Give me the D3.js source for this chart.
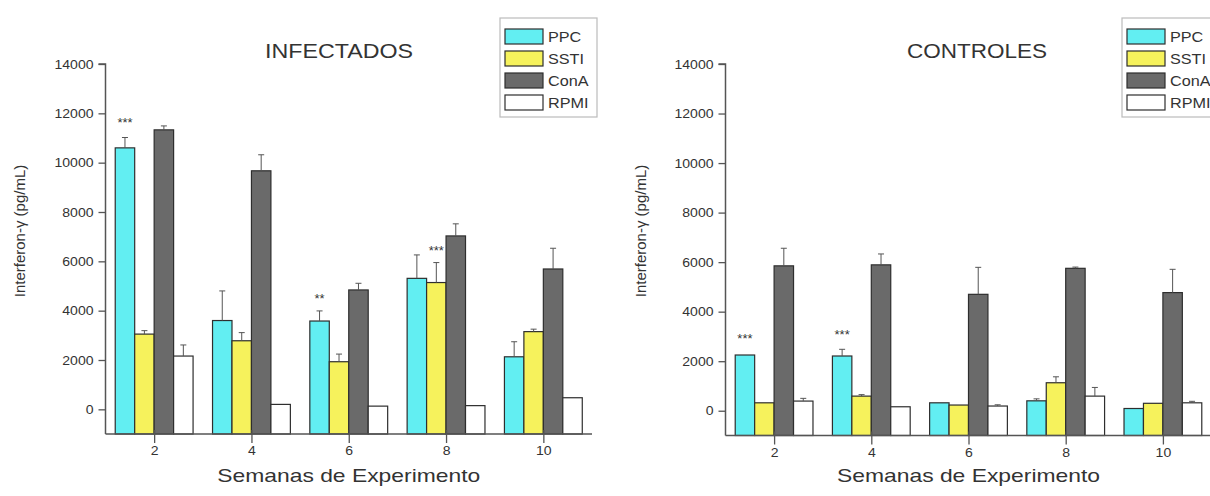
<!DOCTYPE html>
<html>
<head>
<meta charset="utf-8">
<script src="https://cdn.jsdelivr.net/npm/d3@7/dist/d3.min.js"></script>
<style>
  html, body { margin: 0; padding: 0; background: #fff; }
  svg { display: block; }
  text { font-family: "Liberation Sans", Arial, sans-serif; fill: #333; }
</style>
</head>
<body>
<svg id="chart" width="1210" height="496"></svg>
<script>
// ---------------- DATA ----------------
const weeks = [2, 4, 6, 8, 10];
const seriesNames = ["PPC", "SSTI", "ConA", "RPMI"];
const yTicks = [0, 2000, 4000, 6000, 8000, 10000, 12000, 14000];
const xTickLabels = ["2", "4", "6", "8", "10"];

// INFECTADOS
const infPPC  = [10600, 3600, 3580, 5310, 2130];
const infSSTI = [3050, 2780, 1930, 5140, 3150];
const infConA = [11330, 9670, 4840, 7030, 5690];
const infRPMI = [2160, 200, 130, 150, 470];
const infPPCErr  = [420, 1200, 410, 950, 610];
const infSSTIErr = [140, 330, 310, 810, 100];
const infConAErr = [160, 650, 270, 490, 840];
const infRPMIErr = [450, 0, 0, 0, 0];
const infStars = [
  { week: 2, series: "PPC", value: 11750, label: "***" },
  { week: 6, series: "PPC", value: 4600, label: "**" },
  { week: 8, series: "SSTI", value: 6550, label: "***" }
];

// CONTROLES
const conPPC  = [2250, 2210, 320, 400, 90];
const conSSTI = [320, 590, 230, 1130, 300];
const conConA = [5850, 5890, 4700, 5750, 4770];
const conRPMI = [390, 160, 190, 590, 320];
const conPPCErr  = [0, 270, 0, 80, 0];
const conSSTIErr = [0, 60, 0, 240, 0];
const conConAErr = [710, 440, 1090, 50, 940];
const conRPMIErr = [110, 0, 50, 350, 60];
const conStars = [
  { week: 2, series: "PPC", value: 3000, label: "***" },
  { week: 4, series: "PPC", value: 3170, label: "***" }
];

// ---------------- STYLE ----------------
const colors = { PPC: "#62eef2", SSTI: "#f6f25c", ConA: "#6a6a6a", RPMI: "#ffffff" };
const STRETCH = 1.08;

const svg = d3.select("#chart");

function buildRows(vals, errs) {
  return weeks.map((w, i) => ({
    week: w,
    values: seriesNames.map(s => ({ series: s, value: vals[s][i], err: errs[s][i] }))
  }));
}

const panels = [
  {
    title: "INFECTADOS", titleX: 339, titleLen: 148,
    xRange: [105.5, 592], yRange: [434, 64], yLabelX: 20, xLabelLen: 263,
    legend: { x: 500, y: 18 },
    rows: buildRows({ PPC: infPPC, SSTI: infSSTI, ConA: infConA, RPMI: infRPMI },
                    { PPC: infPPCErr, SSTI: infSSTIErr, ConA: infConAErr, RPMI: infRPMIErr }),
    stars: infStars
  },
  {
    title: "CONTROLES", titleX: 977, titleLen: 140,
    xRange: [725.5, 1211.5], yRange: [435.5, 64], yLabelX: 641, xLabelLen: 263,
    legend: { x: 1122, y: 18 },
    rows: buildRows({ PPC: conPPC, SSTI: conSSTI, ConA: conConA, RPMI: conRPMI },
                    { PPC: conPPCErr, SSTI: conSSTIErr, ConA: conConAErr, RPMI: conRPMIErr }),
    stars: conStars
  }
];

const BAR_W = 0.4; // in week units
const offset = d3.scaleBand().domain(seriesNames).range([-0.8, 0.8]);

panels.forEach(p => {
  const x = d3.scaleLinear().domain([1, 11]).range(p.xRange);
  const y = d3.scaleLinear().domain([-1000, 14000]).range(p.yRange);
  const g = svg.append("g");
  const x0 = p.xRange[0];
  const yBase = y(-1000);
  const bw = x(1 + BAR_W) - x(1);

  // bars
  const groups = g.selectAll(".grp").data(p.rows).enter().append("g");
  groups.selectAll("rect").data(d => d.values.map(v => ({ ...v, week: d.week })))
    .enter().append("rect")
    .attr("x", d => x(d.week + offset(d.series)))
    .attr("width", bw)
    .attr("y", d => y(d.value))
    .attr("height", d => yBase - y(d.value))
    .attr("fill", d => colors[d.series])
    .attr("stroke", "#2e2e2e")
    .attr("stroke-width", 1.2);

  // error bars (upper only)
  const eb = groups.selectAll(".eb").data(d => d.values.filter(v => v.err > 0).map(v => ({ ...v, week: d.week })))
    .enter().append("g").attr("stroke", "#555").attr("stroke-width", 1);
  eb.append("line")
    .attr("x1", d => x(d.week + offset(d.series) + BAR_W / 2))
    .attr("x2", d => x(d.week + offset(d.series) + BAR_W / 2))
    .attr("y1", d => y(d.value))
    .attr("y2", d => y(d.value + d.err));
  eb.append("line")
    .attr("x1", d => x(d.week + offset(d.series) + BAR_W / 2) - 3)
    .attr("x2", d => x(d.week + offset(d.series) + BAR_W / 2) + 3)
    .attr("y1", d => y(d.value + d.err))
    .attr("y2", d => y(d.value + d.err));

  // significance stars
  g.selectAll(".star").data(p.stars).enter().append("text")
    .attr("class", "stx")
    .attr("x", d => x(d.week + offset(d.series) + BAR_W / 2))
    .attr("y", d => y(d.value) + 7)
    .attr("text-anchor", "middle")
    .attr("font-size", 12)
    .text(d => d.label);

  // axes
  const yAxis = d3.axisLeft(y).tickValues(yTicks).tickSize(7).tickPadding(5).tickFormat(d3.format("d"));
  const ya = g.append("g").attr("transform", `translate(${x0},0)`).call(yAxis);
  ya.select(".domain").attr("d", `M-7,${y(14000)}H0V${yBase}`).attr("stroke", "#555").attr("stroke-width", 1.5);
  ya.selectAll(".tick line").attr("stroke", "#555").attr("stroke-width", 1.3);
  ya.selectAll(".tick text").attr("font-size", 13).attr("font-family", "Liberation Sans, Arial, sans-serif").attr("fill", "#333").classed("stx", true);

  const xAxis = d3.axisBottom(x).tickValues(weeks).tickSize(9).tickPadding(3).tickFormat((d, i) => xTickLabels[i]);
  const xa = g.append("g").attr("transform", `translate(0,${yBase})`).call(xAxis);
  xa.select(".domain").attr("d", `M${x0},0H${p.xRange[1]}`).attr("stroke", "#555").attr("stroke-width", 1.5);
  xa.selectAll(".tick line").attr("stroke", "#555").attr("stroke-width", 1.3).attr("y1", -4);
  xa.selectAll(".tick text").attr("font-size", 13).attr("font-family", "Liberation Sans, Arial, sans-serif").attr("fill", "#333").classed("stx", true);

  // title
  g.append("text").attr("x", p.titleX).attr("y", 58).attr("text-anchor", "middle")
    .attr("font-size", 20).attr("textLength", p.titleLen).attr("lengthAdjust", "spacingAndGlyphs")
    .text(p.title);

  // x label
  g.append("text").attr("x", (p.xRange[0] + p.xRange[1]) / 2).attr("y", 482).attr("text-anchor", "middle")
    .attr("font-size", 19).attr("textLength", p.xLabelLen).attr("lengthAdjust", "spacingAndGlyphs")
    .text("Semanas de Experimento");

  // y label
  g.append("text").attr("transform", `translate(${p.yLabelX + 5},231) rotate(-90)`)
    .attr("text-anchor", "middle").attr("font-size", 15)
    .text("Interferon-γ (pg/mL)");

  // legend
  const lg = g.append("g").attr("transform", `translate(${p.legend.x},${p.legend.y})`);
  lg.append("rect").attr("x", 0).attr("y", 0).attr("width", 97).attr("height", 99)
    .attr("fill", "#fff").attr("stroke", "#bbb").attr("stroke-width", 1.2);
  const items = lg.selectAll(".li").data(seriesNames).enter().append("g")
    .attr("transform", (d, i) => `translate(0,${11 + i * 22})`);
  items.append("rect").attr("x", 5).attr("y", 0).attr("width", 38).attr("height", 15)
    .attr("fill", d => colors[d]).attr("stroke", "#2e2e2e").attr("stroke-width", 1.2);
  items.append("text").attr("x", 48).attr("y", 13).attr("font-size", 15).classed("stx", true).text(d => d);
});

// horizontal stretch of small text to match the reference aspect
svg.selectAll("text.stx").each(function () {
  const len = this.getComputedTextLength();
  d3.select(this).attr("textLength", len * STRETCH).attr("lengthAdjust", "spacingAndGlyphs");
});
</script>
</body>
</html>
